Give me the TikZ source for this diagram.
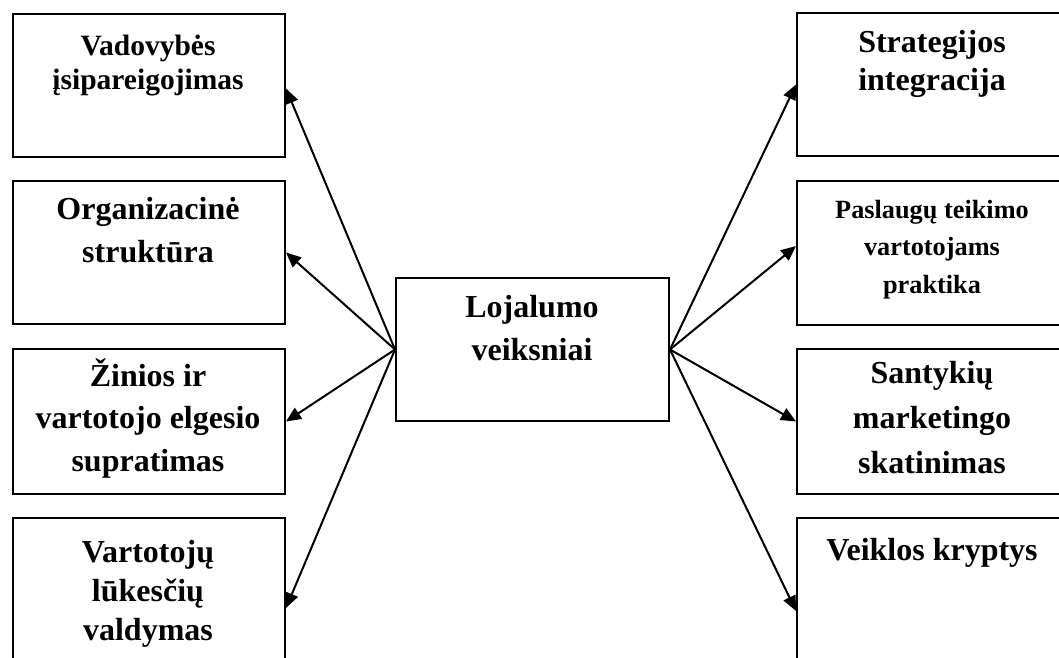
\documentclass[tikz,border=0pt]{standalone}
\usepackage{fontspec}
\setmainfont{Liberation Serif}
\usetikzlibrary{arrows.meta}
\begin{document}
\begin{tikzpicture}[x=1pt,y=-1pt,
  box/.style={draw, line width=2pt, inner sep=0pt, anchor=north west,
              minimum width=272pt, minimum height=143pt},
  lbl/.style={align=center, anchor=base, inner sep=0pt},
  big/.style={font=\bfseries\fontsize{32}{43}\selectfont},
  link/.style={line width=2pt, -{Triangle[length=15pt,width=13pt]}}]
\useasboundingbox (0,0) rectangle (1059,657);
\clip (0,0) rectangle (1059,657);

% factor boxes, left column
\node[box] (l1) at (12,13) {};
\node[box] (l2) at (12,180) {};
\node[box, minimum height=145pt] (l3) at (12,348) {};
\node[box, minimum height=180pt] (l4) at (12,517) {};
% factor boxes, right column (running past the page edge)
\node[box] (r1) at (796,12) {};
\node[box, minimum height=144pt] (r2) at (796,180) {};
\node[box, minimum height=145pt] (r3) at (796,348) {};
\node[box, minimum height=186pt] (r4) at (796,517) {};
% central box
\node[box, minimum width=273pt] (c) at (395,277) {};

% labels (anchored at the baseline of their last line)
\node[lbl, font=\bfseries\fontsize{29.5}{34}\selectfont] (tl1) at (148,89) {Vadovybės\\įsipareigojimas};
\node[lbl, big] (tl2) at (148,262) {Organizacinė\\struktūra};
\node[lbl, font=\bfseries\fontsize{32}{42.5}\selectfont] (tl3) at (148,471) {Žinios ir\\vartotojo elgesio\\supratimas};
\node[lbl, font=\bfseries\fontsize{32}{39}\selectfont] (tl4) at (148,640) {Vartotojų\\lūkesčių\\valdymas};
\node[lbl, font=\bfseries\fontsize{32}{38}\selectfont] (tr1) at (932,90) {Strategijos\\integracija};
\node[lbl, font=\bfseries\fontsize{26.3}{37.5}\selectfont] (tr2) at (932,293) {Paslaugų teikimo\\vartotojams\\praktika};
\node[lbl, font=\bfseries\fontsize{32}{45}\selectfont] (tr3) at (932,473) {Santykių\\marketingo\\skatinimas};
\node[lbl, big] (tr4) at (932,560) {Veiklos kryptys};
\node[lbl, big] (tc) at (532,360) {Lojalumo\\veiksniai};

% connectors
\draw[link] (c.west) -- ([yshift=-3pt]l1.east);
\draw[link] (c.west) -- (l2.east);
\draw[link] (c.west) -- (l3.east);
\draw[link] (c.west) -- (l4.east);
\draw[link] (c.east) -- (r1.west);
\draw[link] (c.east) -- ([yshift=7pt]r2.west);
\draw[link] (c.east) -- (r3.west);
\draw[link] (c.east) -- (r4.west);
\end{tikzpicture}
\end{document}
